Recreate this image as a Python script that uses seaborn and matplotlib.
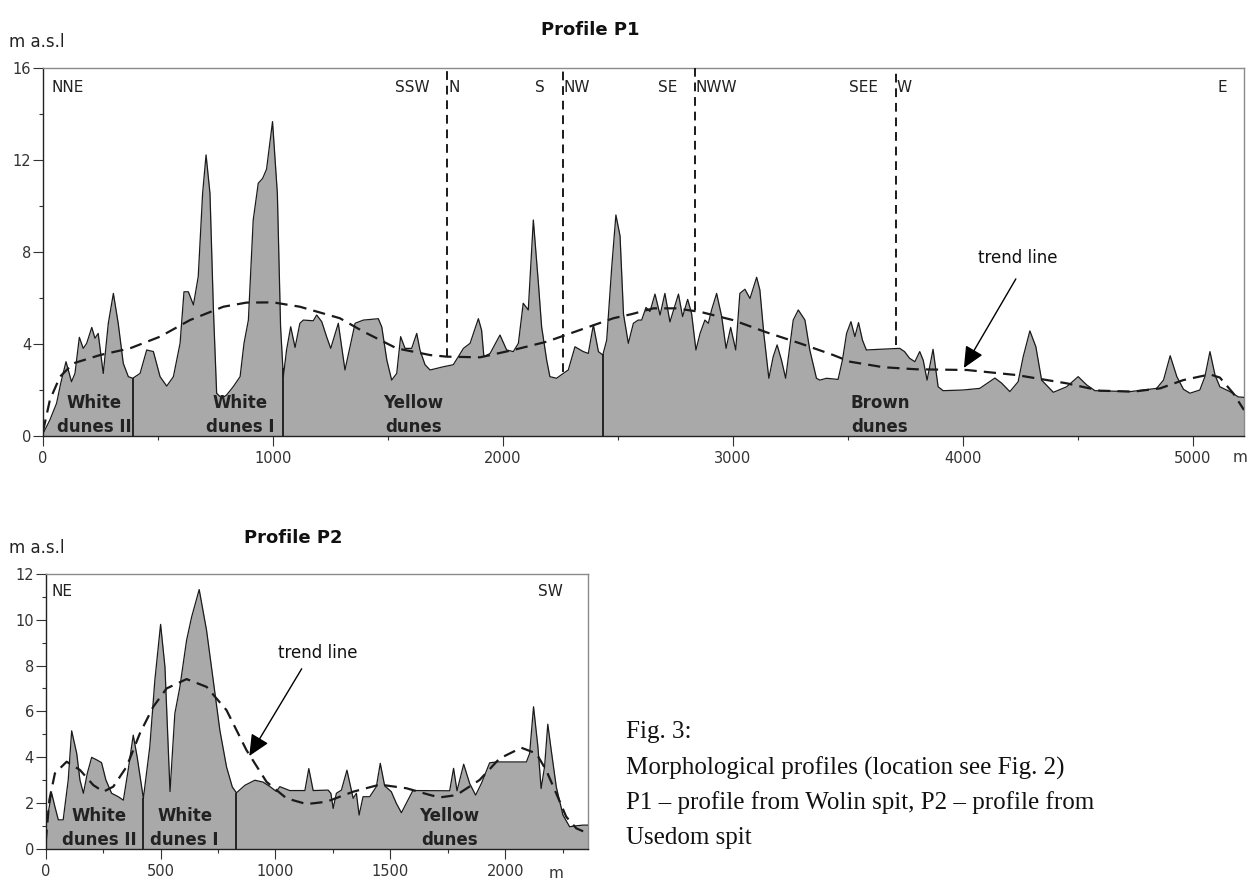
import numpy as np
import pandas as pd
import matplotlib
matplotlib.use("Agg")
import matplotlib.pyplot as plt
from matplotlib.ticker import MultipleLocator
import seaborn as sns

# ---------------- Profile P1 (Wolin spit) ----------------
p1_distance = [0, 30, 59, 77, 100, 124, 139, 158, 175, 190, 212, 226, 240, 262, 284, 306, 327, 349,
               371, 390, 422, 451, 480, 509, 538, 567, 596, 613, 632, 654, 675, 694, 709, 726, 741,
               755, 777, 798, 827, 857, 874, 893, 914, 936, 955, 972, 998, 1019, 1033, 1045, 1059,
               1077, 1096, 1117, 1132, 1175, 1190, 1212, 1233, 1251, 1284, 1313, 1357, 1393, 1458,
               1473, 1495, 1516, 1538, 1555, 1574, 1603, 1625, 1639, 1661, 1683, 1741, 1784, 1806,
               1828, 1857, 1893, 1907, 1917, 1944, 1987, 2016, 2045, 2067, 2088, 2110, 2132, 2154,
               2168, 2190, 2204, 2233, 2262, 2284, 2313, 2349, 2371, 2393, 2415, 2434, 2451, 2473,
               2491, 2509, 2524, 2545, 2567, 2588, 2603, 2622, 2639, 2661, 2683, 2704, 2726, 2763,
               2781, 2803, 2820, 2839, 2857, 2878, 2893, 2907, 2929, 2951, 2970, 2990, 3012, 3030,
               3052, 3074, 3103, 3117, 3134, 3156, 3175, 3192, 3211, 3229, 3247, 3262, 3284, 3313,
               3334, 3363, 3378, 3407, 3457, 3476, 3494, 3513, 3530, 3546, 3563, 3580, 3638, 3725,
               3746, 3768, 3791, 3812, 3827, 3844, 3870, 3892, 3914, 4001, 4073, 4139, 4168, 4204,
               4240, 4262, 4291, 4317, 4342, 4393, 4451, 4501, 4538, 4574, 4727, 4842, 4872, 4901,
               4930, 4959, 4987, 5030, 5052, 5074, 5096, 5117, 5161, 5197, 5222]
p1_elevation = [0.10, 0.70, 1.42, 2.29, 3.23, 2.36, 2.72, 4.29, 3.81, 4.03, 4.72, 4.25, 4.46, 2.72,
                4.90, 6.20, 4.90, 3.16, 2.58, 2.51, 2.72, 3.74, 3.67, 2.58, 2.17, 2.58, 4.03, 6.27,
                6.27, 5.70, 6.93, 10.55, 12.22, 10.55, 5.48, 1.86, 1.64, 1.78, 2.14, 2.58, 4.03,
                5.04, 9.39, 10.99, 11.20, 11.60, 13.67, 10.55, 4.75, 2.58, 3.74, 4.75, 3.85, 4.90,
                5.04, 5.01, 5.26, 4.97, 4.32, 3.81, 4.90, 2.87, 4.90, 5.04, 5.10, 4.74, 3.30, 2.43,
                2.72, 4.32, 3.81, 3.81, 4.46, 3.74, 3.10, 2.87, 3.01, 3.10, 3.45, 3.81, 4.03, 5.10,
                4.60, 3.45, 3.59, 4.39, 3.74, 3.67, 4.03, 5.77, 5.48, 9.39, 6.64, 4.75, 3.30, 2.58,
                2.51, 2.72, 2.87, 3.88, 3.67, 3.59, 4.83, 3.67, 3.52, 4.17, 7.36, 9.61, 8.70, 5.30,
                4.03, 4.90, 5.04, 5.04, 5.59, 5.41, 6.17, 5.26, 6.20, 4.96, 6.17, 5.19, 5.94, 5.33,
                3.74, 4.46, 5.04, 4.90, 5.48, 6.20, 5.19, 3.81, 4.72, 3.74, 6.20, 6.38, 5.98, 6.90,
                6.35, 4.46, 2.51, 3.45, 3.96, 3.30, 2.51, 3.88, 5.04, 5.48, 5.04, 3.74, 2.51, 2.43,
                2.51, 2.46, 3.30, 4.46, 4.97, 4.32, 4.93, 4.17, 3.74, 3.77, 3.81, 3.67, 3.38, 3.23,
                3.67, 3.30, 2.43, 3.77, 2.14, 1.97, 2.00, 2.07, 2.52, 2.30, 1.93, 2.36, 3.45, 4.57,
                3.88, 2.43, 1.90, 2.14, 2.58, 2.22, 1.97, 1.93, 2.07, 2.43, 3.49, 2.58, 2.03, 1.86,
                2.00, 2.58, 3.67, 2.65, 2.14, 1.93, 1.70, 1.68]
p1_trend_distance = [0, 30, 74, 132, 248, 378, 509, 639, 784, 885, 1001, 1117, 1291, 1393, 1538,
                     1683, 1755, 1900, 2045, 2190, 2335, 2480, 2560, 2653, 2750, 2857, 3000, 3148,
                     3291, 3436, 3509, 3654, 3798, 4017, 4233, 4451, 4596, 4741, 4857, 4958, 5074,
                     5117, 5175, 5222]
p1_trend_elevation = [0.20, 1.57, 2.58, 3.16, 3.52, 3.81, 4.32, 5.04, 5.62, 5.80, 5.81, 5.62, 5.12,
                      4.54, 3.81, 3.52, 3.45, 3.42, 3.74, 4.10, 4.61, 5.12, 5.30, 5.55, 5.55, 5.40,
                      5.04, 4.50, 4.03, 3.52, 3.23, 2.99, 2.90, 2.87, 2.65, 2.29, 1.97, 1.93, 2.07,
                      2.43, 2.68, 2.54, 1.86, 1.13]
p1_zone_bounds = [391, 1043, 2435]
p1_zone_names = ["White\ndunes II", "White\ndunes I", "Yellow\ndunes", "Brown\ndunes"]
p1_zone_centres = [222, 857, 1611, 3639]
# changes of profile direction: position, lower end of the marker, labels on either side
p1_bend_x = [1757, 2261, 2835, 3709]
p1_bend_floor = [3.43, 2.80, 5.50, 3.96]
p1_bend_before = ["SSW", "S", "SE", "SEE"]
p1_bend_after = ["N", "NW", "NWW", "W"]
p1_start_dir, p1_end_dir = "NNE", "E"

# ---------------- Profile P2 (Usedom spit) ----------------
p2_distance = [0, 26, 40, 55, 76, 98, 113, 135, 149, 164, 181, 200, 222, 243, 262, 287, 316, 338,
               359, 381, 398, 425, 453, 475, 500, 519, 541, 562, 584, 613, 635, 668, 700, 729, 758,
               787, 812, 830, 867, 910, 946, 975, 1004, 1019, 1062, 1128, 1145, 1164, 1229, 1241,
               1251, 1265, 1287, 1311, 1338, 1352, 1364, 1381, 1410, 1439, 1456, 1475, 1504, 1526,
               1548, 1569, 1598, 1758, 1775, 1790, 1819, 1845, 1871, 1896, 1932, 1961, 2092, 2106,
               2123, 2142, 2156, 2171, 2185, 2200, 2222, 2251, 2280, 2309, 2338, 2360]
p2_elevation = [0.96, 2.42, 1.84, 1.26, 1.26, 3.00, 5.15, 4.16, 3.00, 2.42, 3.29, 3.99, 3.88, 3.76,
                3.00, 2.42, 2.27, 2.12, 3.44, 4.96, 4.01, 2.20, 4.45, 7.36, 9.80, 7.94, 2.50, 5.90,
                7.07, 9.10, 10.12, 11.32, 9.54, 7.36, 5.17, 3.57, 2.70, 2.44, 2.77, 2.99, 2.91,
                2.72, 2.50, 2.71, 2.54, 2.54, 3.50, 2.54, 2.56, 2.42, 1.76, 2.42, 2.56, 3.43, 2.20,
                2.42, 1.47, 2.27, 2.27, 2.71, 3.73, 2.75, 2.49, 1.98, 1.57, 1.98, 2.54, 2.53, 3.51,
                2.53, 3.69, 2.85, 2.34, 2.85, 3.75, 3.79, 3.79, 4.16, 6.20, 4.45, 2.63, 3.58, 5.44,
                4.30, 2.70, 1.47, 0.96, 1.00, 1.03, 1.03]
p2_trend_distance = [0, 16, 40, 91, 149, 207, 251, 294, 352, 410, 468, 526, 613, 700, 787, 874, 961,
                     1048, 1135, 1222, 1338, 1454, 1570, 1671, 1714, 1787, 1888, 1975, 2070, 2135,
                     2178, 2222, 2265, 2309, 2341]
p2_trend_elevation = [0.30, 2.13, 3.29, 3.80, 3.44, 2.78, 2.49, 2.71, 3.58, 5.04, 6.20, 7.00, 7.41,
                      7.07, 6.05, 4.30, 2.92, 2.20, 1.95, 2.05, 2.49, 2.80, 2.64, 2.35, 2.24, 2.34,
                      3.00, 3.94, 4.41, 4.16, 3.43, 2.41, 1.40, 0.89, 0.75]
p2_zone_bounds = [425, 830]
p2_zone_names = ["White\ndunes II", "White\ndunes I", "Yellow\ndunes"]
p2_zone_centres = [232, 605, 1758]
p2_start_dir, p2_end_dir = "NE", "SW"

caption_lines = ["Fig. 3:",
                 "Morphological profiles (location see Fig. 2)",
                 "P1 \u2013 profile from Wolin spit, P2 \u2013 profile from",
                 "Usedom spit"]

sns.set_style("ticks")
plt.rcParams["font.family"] = ["DejaVu Sans"]

W, H = 1255, 886
fig = plt.figure(figsize=(W / 100, H / 100), dpi=100)


def box(left, top, right, bottom):
    return [left / W, 1 - bottom / H, (right - left) / W, (bottom - top) / H]


FILL = "#a9a9a9"
INK = "#1a1a1a"
TICKC = "#333333"


def draw_profile(ax, dist, elev, tdist, telev, xmax, ymax, xmaj, ymaj):
    df = pd.DataFrame({"distance": dist, "elevation": elev})
    tr = pd.DataFrame({"distance": tdist, "elevation": telev})
    ax.fill_between(df["distance"], 0, df["elevation"], color=FILL, lw=0, zorder=1)
    sns.lineplot(data=df, x="distance", y="elevation", ax=ax, color=INK, lw=0.9,
                 sort=False, zorder=3)
    sns.lineplot(data=tr, x="distance", y="elevation", ax=ax, color=INK, lw=1.6,
                 linestyle=(0, (5.5, 3.2)), sort=False, zorder=4)
    ax.set_xlim(0, xmax)
    ax.set_ylim(0, ymax)
    ax.set_xlabel("")
    ax.set_ylabel("")
    ax.xaxis.set_major_locator(MultipleLocator(xmaj))
    ax.xaxis.set_minor_locator(MultipleLocator(xmaj / 2))
    ax.yaxis.set_major_locator(MultipleLocator(ymaj))
    ax.yaxis.set_minor_locator(MultipleLocator(ymaj / 2))
    ax.tick_params(which="both", direction="out", color=TICKC, labelcolor=TICKC,
                   labelsize=10.5, width=0.8)
    ax.tick_params(which="major", length=7)
    ax.tick_params(which="minor", length=3)
    ax.tick_params(axis="y", pad=1.5)
    ax.tick_params(axis="x", pad=4)
    for side in ("left", "bottom"):
        ax.spines[side].set_color("#222222")
        ax.spines[side].set_linewidth(1.0)
    for side in ("top", "right"):
        ax.spines[side].set_visible(True)
        ax.spines[side].set_color("#8a8a8a")
        ax.spines[side].set_linewidth(1.0)
    ax.set_facecolor("white")


def zone_marks(ax, dist, elev, bounds, names, centres):
    for b in bounds:
        top = np.interp(b, dist, elev)
        ax.vlines(b, 0, top, color=INK, lw=1.3, zorder=5)
    for name, cx in zip(names, centres):
        first, second = name.split("\n")
        ax.text(cx, 1.42, first, ha="center", va="center", fontsize=12,
                fontweight="bold", color="#222222", zorder=6)
        ax.text(cx, 0.40, second, ha="center", va="center", fontsize=12,
                fontweight="bold", color="#222222", zorder=6)


# ---- P1 ----
ax1 = fig.add_axes(box(43, 68, 1244, 436))
draw_profile(ax1, p1_distance, p1_elevation, p1_trend_distance, p1_trend_elevation,
             5222, 16, 1000, 4)
zone_marks(ax1, p1_distance, p1_elevation, p1_zone_bounds, p1_zone_names, p1_zone_centres)
for bx, fl, before, after in zip(p1_bend_x, p1_bend_floor, p1_bend_before, p1_bend_after):
    ax1.vlines(bx, fl, 16, color=INK, lw=1.4, linestyles=(0, (4.5, 3.0)), zorder=5)
    ax1.text(bx - 78, 15.17, before, ha="right", va="center", fontsize=11, color="#222222")
    ax1.text(bx + 4, 15.17, after, ha="left", va="center", fontsize=11, color="#222222")
ax1.text(39, 15.17, p1_start_dir, ha="left", va="center", fontsize=11, color="#222222")
ax1.text(5150, 15.17, p1_end_dir, ha="right", va="center", fontsize=11, color="#222222")
ax1.text(4239, 7.74, "trend line", ha="center", va="center", fontsize=12, color="#111111")
ax1.annotate("", xy=(4004, 2.96), xytext=(4230, 6.83),
             arrowprops=dict(arrowstyle="-|>,head_length=0.65,head_width=0.3",
                             color="black", lw=1.0, mutation_scale=20, shrinkA=0, shrinkB=0))

# ---- P2 ----
ax2 = fig.add_axes(box(45.7, 574, 588, 848.7))
draw_profile(ax2, p2_distance, p2_elevation, p2_trend_distance, p2_trend_elevation,
             2360, 12, 500, 2)
zone_marks(ax2, p2_distance, p2_elevation, p2_zone_bounds, p2_zone_names, p2_zone_centres)
ax2.text(27, 11.24, p2_start_dir, ha="left", va="center", fontsize=11, color="#222222")
ax2.text(2249, 11.24, p2_end_dir, ha="right", va="center", fontsize=11, color="#222222")
ax2.text(1185, 8.54, "trend line", ha="center", va="center", fontsize=12, color="#111111")
ax2.annotate("", xy=(886, 4.05), xytext=(1114, 7.86),
             arrowprops=dict(arrowstyle="-|>,head_length=0.65,head_width=0.3",
                             color="black", lw=1.0, mutation_scale=20, shrinkA=0, shrinkB=0))

# titles, axis units
fig.text(590 / W, 1 - 30 / H, "Profile P1", ha="center", va="center", fontsize=13,
         fontweight="bold", color="#111111")
fig.text(293 / W, 1 - 538 / H, "Profile P2", ha="center", va="center", fontsize=13,
         fontweight="bold", color="#111111")
for ypix in (42, 548):
    fig.text(9 / W, 1 - ypix / H, "m a.s.l", ha="left", va="center", fontsize=12, color="#222222")
fig.text(1240 / W, 1 - 457 / H, "m", ha="center", va="center", fontsize=11, color=TICKC)
fig.text(556 / W, 1 - 873 / H, "m", ha="center", va="center", fontsize=11, color=TICKC)

# caption
for line, ypix in zip(caption_lines, (732, 768, 803, 838)):
    fig.text(626 / W, 1 - ypix / H, line, ha="left", va="center", fontsize=18,
             family=["Liberation Serif", "DejaVu Serif"], color="#111111")

fig.savefig("out.png", dpi=100, facecolor="white")
